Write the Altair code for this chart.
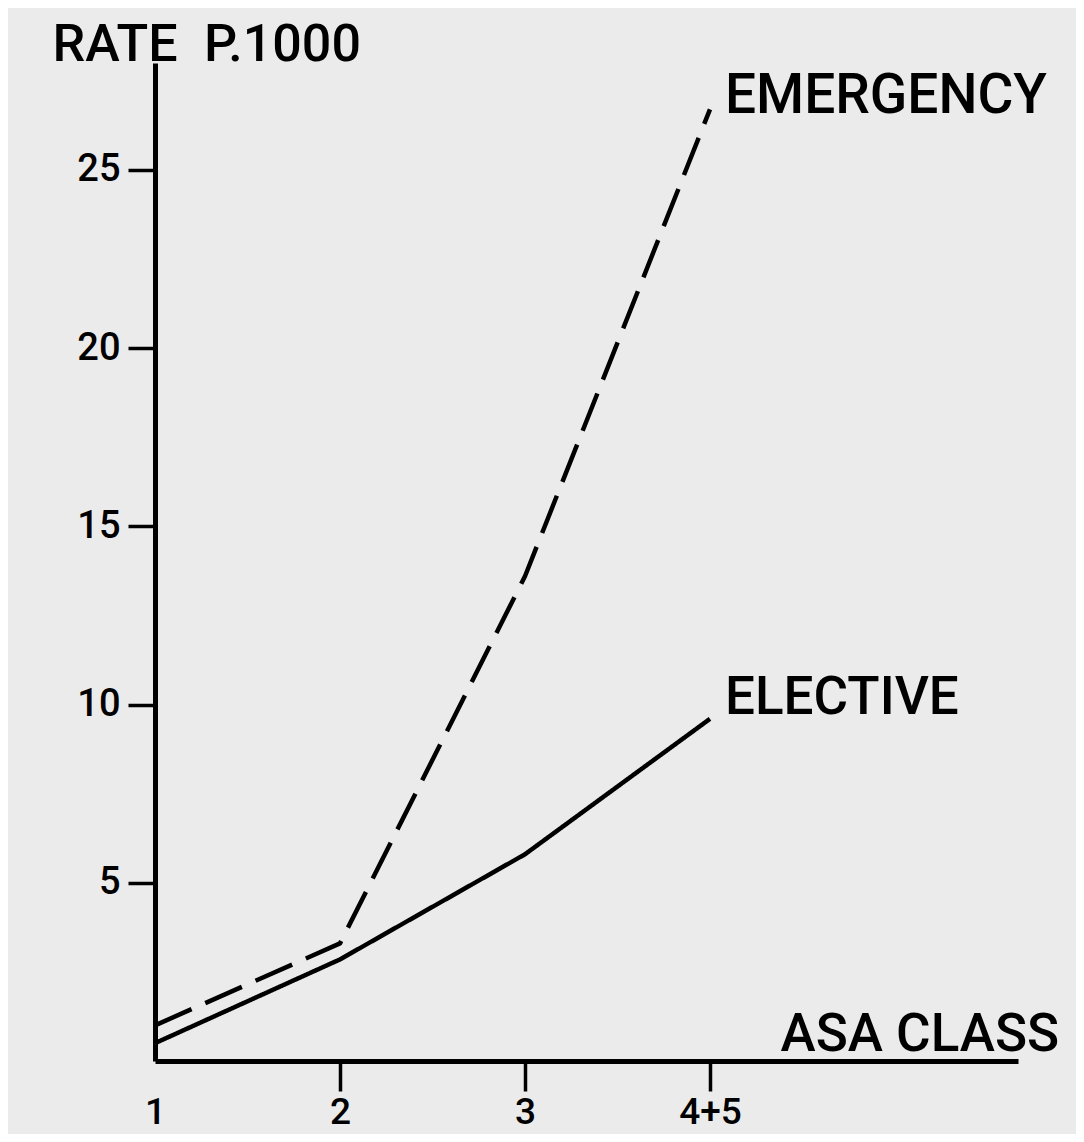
import altair as alt
import pandas as pd

# ---- data ----
asa_values = [1, 2, 3, 4]
asa_labels = ["1", "2", "3", "4+5"]
series_names = ["EMERGENCY", "ELECTIVE"]
emergency_rate = [1.0, 3.3, 13.6, 26.7]
elective_rate = [0.5, 2.85, 5.8, 9.6]
y_tick_values = [5, 10, 15, 20, 25]

rows = []
for name, vals in zip(series_names, [emergency_rate, elective_rate]):
    for xv, v in zip(asa_values, vals):
        rows.append({"asa": xv, "rate": v, "series": name})
df = pd.DataFrame(rows)

FONT = "Roboto"
WEIGHT = 500
BG = "#ebebeb"

label_map = "{" + ",".join(f"'{v}':'{l}'" for v, l in zip(asa_values, asa_labels)) + "}"

x_scale = alt.Scale(domain=[1, 5.665], nice=False, zero=False)
y_scale = alt.Scale(domain=[0, 28], nice=False, zero=True)

x_axis = alt.Axis(
    values=asa_values,
    labelExpr=f"{label_map}[datum.value]",
    title="ASA CLASS",
    titleX=625, titleY=-11,
    titleAlign="left", titleBaseline="alphabetic", titleAngle=0,
    titleFont=FONT, titleFontSize=53, titleFontWeight=WEIGHT, titleColor="black",
    labelFont=FONT, labelFontSize=37, labelFontWeight=WEIGHT, labelColor="black",
    labelPadding=3, labelFlush=False, labelOverlap=False, labelBound=False, labelAngle=0,
    tickSize=30, tickWidth=3.5,
    tickColor={"condition": {"test": "datum.value === 1", "value": "transparent"}, "value": "black"},
    domainColor="black", domainWidth=5, grid=False,
)

y_axis = alt.Axis(
    values=y_tick_values,
    title="RATE\u2002P.1000",
    titleX=-103, titleY=-3,
    titleAlign="left", titleBaseline="alphabetic", titleAngle=0,
    titleFont=FONT, titleFontSize=52, titleFontWeight=WEIGHT, titleColor="black",
    labelFont=FONT, labelFontSize=38, labelFontWeight=WEIGHT, labelColor="black", labelPadding=8,
    labelOverlap=False,
    tickSize=27, tickWidth=3.5, tickColor="black",
    domainColor="black", domainWidth=5, grid=False,
)

base = alt.Chart(df)

lines = base.mark_line(color="black", strokeWidth=4.5, strokeCap="butt", strokeJoin="round").encode(
    x=alt.X("asa:Q", scale=x_scale, axis=x_axis),
    y=alt.Y("rate:Q", scale=y_scale, axis=y_axis),
    strokeDash=alt.StrokeDash(
        "series:N",
        scale=alt.Scale(domain=series_names, range=[[40, 15], [1, 0]]),
        legend=None,
    ),
    detail="series:N",
)

last_x = asa_values[-1]

emerg_text = base.transform_filter(
    f"datum.asa == {last_x} && datum.series == '{series_names[0]}'"
).mark_text(
    align="left", baseline="alphabetic", dx=15, dy=4,
    font=FONT, fontSize=55, fontWeight=WEIGHT, color="black",
).encode(
    x=alt.X("asa:Q", scale=x_scale),
    y=alt.Y("rate:Q", scale=y_scale),
    text="series:N",
)

elect_text = base.transform_filter(
    f"datum.asa == {last_x} && datum.series == '{series_names[1]}'"
).mark_text(
    align="left", baseline="alphabetic", dx=15, dy=-5,
    font=FONT, fontSize=53, fontWeight=WEIGHT, color="black",
).encode(
    x=alt.X("asa:Q", scale=x_scale),
    y=alt.Y("rate:Q", scale=y_scale),
    text="series:N",
)

chart = alt.layer(lines, emerg_text, elect_text).properties(
    width=863,
    height=998,
    autosize=alt.AutoSizeParams(type="none"),
    padding={"left": 147, "top": 55, "right": 58, "bottom": 73},
    background=BG,
).configure_view(stroke=None)

chart.save("out.html", embed_options={"renderer": "svg", "actions": False})
